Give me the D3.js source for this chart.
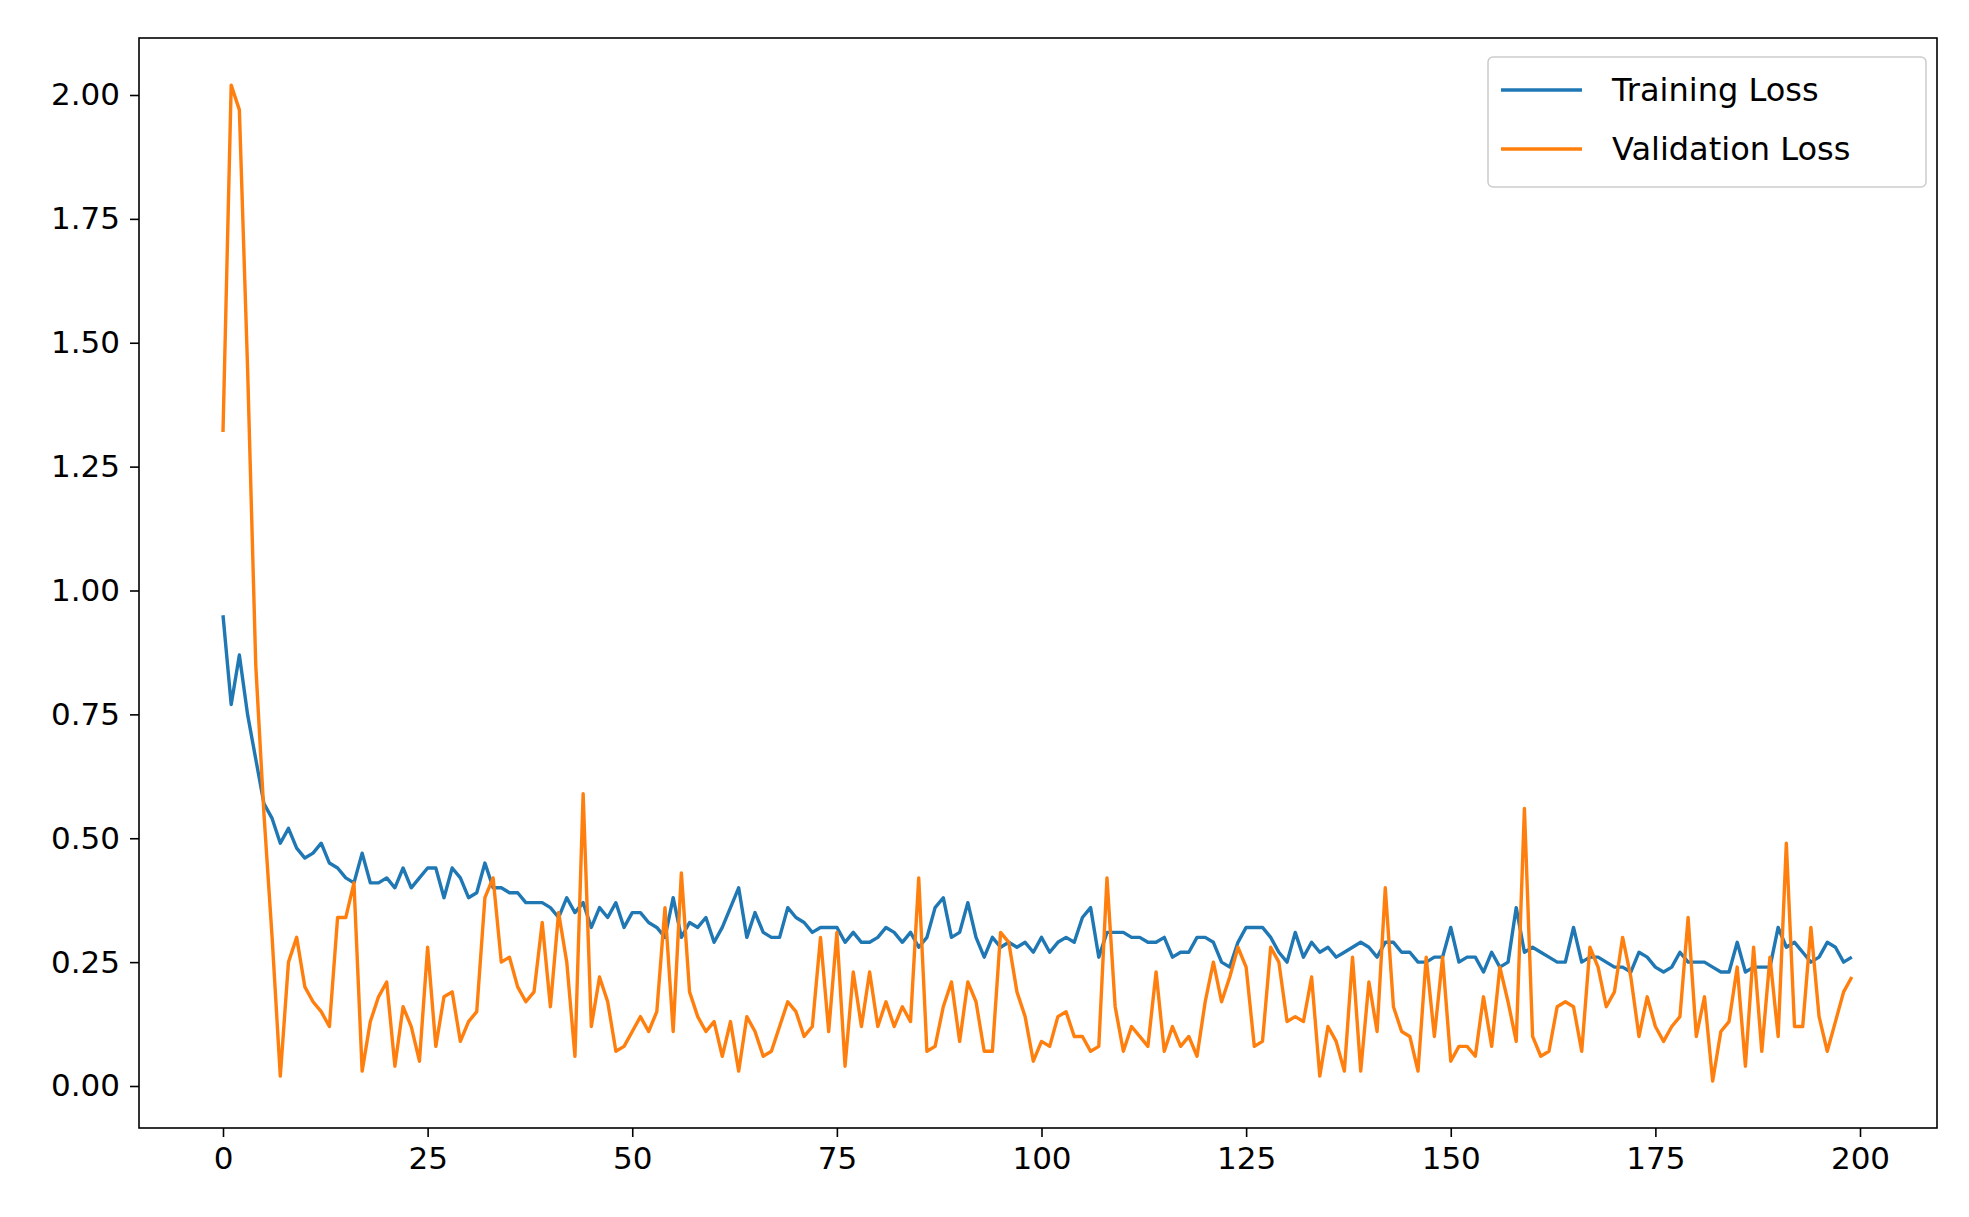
<!DOCTYPE html>
<html>
<head>
<meta charset="utf-8">
<script src="https://cdn.jsdelivr.net/npm/d3@7"></script>
<style>
body { margin: 0; background: #fff; }
text { font-family: "DejaVu Sans", sans-serif; }
</style>
</head>
<body>
<div id="chart"></div>
<script>
// Data
var trainingLoss = [
	0.95,0.77,0.87,0.75,0.66,0.57,0.54,0.49,0.52,0.48,0.46,0.47,0.49,0.45,0.44,0.42,0.41,0.47,0.41,0.41,
	0.42,0.40,0.44,0.40,0.42,0.44,0.44,0.38,0.44,0.42,0.38,0.39,0.45,0.40,0.40,0.39,0.39,0.37,0.37,0.37,
	0.36,0.34,0.38,0.35,0.37,0.32,0.36,0.34,0.37,0.32,0.35,0.35,0.33,0.32,0.30,0.38,0.30,0.33,0.32,0.34,
	0.29,0.32,0.36,0.40,0.30,0.35,0.31,0.30,0.30,0.36,0.34,0.33,0.31,0.32,0.32,0.32,0.29,0.31,0.29,0.29,
	0.30,0.32,0.31,0.29,0.31,0.28,0.30,0.36,0.38,0.30,0.31,0.37,0.30,0.26,0.30,0.28,0.29,0.28,0.29,0.27,
	0.30,0.27,0.29,0.30,0.29,0.34,0.36,0.26,0.31,0.31,0.31,0.30,0.30,0.29,0.29,0.30,0.26,0.27,0.27,0.30,
	0.30,0.29,0.25,0.24,0.29,0.32,0.32,0.32,0.30,0.27,0.25,0.31,0.26,0.29,0.27,0.28,0.26,0.27,0.28,0.29,
	0.28,0.26,0.29,0.29,0.27,0.27,0.25,0.25,0.26,0.26,0.32,0.25,0.26,0.26,0.23,0.27,0.24,0.25,0.36,0.27,
	0.28,0.27,0.26,0.25,0.25,0.32,0.25,0.26,0.26,0.25,0.24,0.24,0.23,0.27,0.26,0.24,0.23,0.24,0.27,0.25,
	0.25,0.25,0.24,0.23,0.23,0.29,0.23,0.24,0.24,0.24,0.32,0.28,0.29,0.27,0.25,0.26,0.29,0.28,0.25,0.26
];
var validationLoss = [
	1.32,2.02,1.97,1.45,0.85,0.55,0.30,0.02,0.25,0.30,0.20,0.17,0.15,0.12,0.34,0.34,0.41,0.03,0.13,0.18,
	0.21,0.04,0.16,0.12,0.05,0.28,0.08,0.18,0.19,0.09,0.13,0.15,0.38,0.42,0.25,0.26,0.20,0.17,0.19,0.33,
	0.16,0.35,0.25,0.06,0.59,0.12,0.22,0.17,0.07,0.08,0.11,0.14,0.11,0.15,0.36,0.11,0.43,0.19,0.14,0.11,
	0.13,0.06,0.13,0.03,0.14,0.11,0.06,0.07,0.12,0.17,0.15,0.10,0.12,0.30,0.11,0.31,0.04,0.23,0.12,0.23,
	0.12,0.17,0.12,0.16,0.13,0.42,0.07,0.08,0.16,0.21,0.09,0.21,0.17,0.07,0.07,0.31,0.29,0.19,0.14,0.05,
	0.09,0.08,0.14,0.15,0.10,0.10,0.07,0.08,0.42,0.16,0.07,0.12,0.10,0.08,0.23,0.07,0.12,0.08,0.10,0.06,
	0.17,0.25,0.17,0.22,0.28,0.24,0.08,0.09,0.28,0.25,0.13,0.14,0.13,0.22,0.02,0.12,0.09,0.03,0.26,0.03,
	0.21,0.11,0.40,0.16,0.11,0.10,0.03,0.26,0.10,0.26,0.05,0.08,0.08,0.06,0.18,0.08,0.24,0.17,0.09,0.56,
	0.10,0.06,0.07,0.16,0.17,0.16,0.07,0.28,0.24,0.16,0.19,0.30,0.22,0.10,0.18,0.12,0.09,0.12,0.14,0.34,
	0.10,0.18,0.01,0.11,0.13,0.24,0.04,0.28,0.07,0.26,0.10,0.49,0.12,0.12,0.32,0.14,0.07,0.13,0.19,0.22
];
var xTicks = [0, 25, 50, 75, 100, 125, 150, 175, 200];
var yTicks = [0, 0.25, 0.5, 0.75, 1.0, 1.25, 1.5, 1.75, 2.0];
var seriesNames = ["Training Loss", "Validation Loss"];
var seriesColors = ["#1f77b4", "#ff7f0e"];

var width = 1969, height = 1217;
var plotLeft = 139, plotRight = 1937, plotTop = 38, plotBottom = 1128;

var svg = d3.select("#chart").append("svg")
	.attr("width", width).attr("height", height);

var x = d3.scaleLinear().domain([0, 200]).range([223, 1860]);
var y = d3.scaleLinear().domain([0, 2]).range([1086, 95]);

var line = d3.line()
	.x(function(d, i) { return x(i); })
	.y(function(d) { return y(d); });

[trainingLoss, validationLoss].forEach(function(s, k) {
	svg.append("path")
		.attr("d", line(s))
		.attr("fill", "none")
		.attr("stroke", seriesColors[k])
		.attr("stroke-width", 3.4)
		.attr("stroke-linejoin", "round");
});

var xAxis = svg.append("g")
	.attr("transform", "translate(0," + plotBottom + ")")
	.call(d3.axisBottom(x).tickValues(xTicks).tickSize(9).tickPadding(10).tickFormat(d3.format("d")));
var yAxis = svg.append("g")
	.attr("transform", "translate(" + plotLeft + ",0)")
	.call(d3.axisLeft(y).tickValues(yTicks).tickSize(9).tickPadding(10).tickFormat(d3.format(".2f")));

[xAxis, yAxis].forEach(function(a) {
	a.select(".domain").remove();
	a.selectAll(".tick line").attr("stroke", "#000").attr("stroke-width", 1.6);
	a.selectAll(".tick text").attr("font-size", 31).attr("fill", "#000")
		.style("font-family", "DejaVu Sans");
});

svg.append("rect")
	.attr("x", plotLeft).attr("y", plotTop)
	.attr("width", plotRight - plotLeft).attr("height", plotBottom - plotTop)
	.attr("fill", "none").attr("stroke", "#000").attr("stroke-width", 1.6);

// legend
var lg = svg.append("g").attr("transform", "translate(1488,57)");
lg.append("rect")
	.attr("width", 438).attr("height", 130).attr("rx", 5)
	.attr("fill", "#fff").attr("fill-opacity", 0.8)
	.attr("stroke", "#ccc").attr("stroke-width", 1.5);
seriesNames.forEach(function(name, k) {
	var yy = 33 + k * 59;
	lg.append("line")
		.attr("x1", 13).attr("x2", 94).attr("y1", yy).attr("y2", yy)
		.attr("stroke", seriesColors[k]).attr("stroke-width", 3.4);
	lg.append("text")
		.attr("x", 124).attr("y", yy + 11)
		.attr("font-size", 32).attr("fill", "#000")
		.text(name);
});
</script>
</body>
</html>
